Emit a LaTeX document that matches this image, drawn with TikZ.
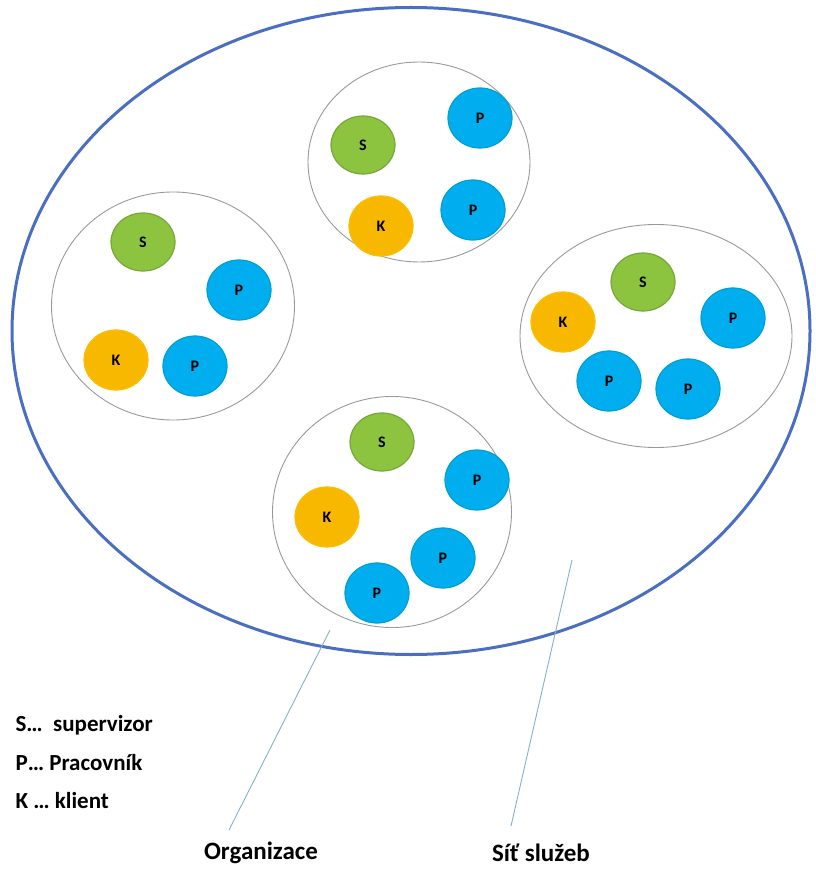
\documentclass[tikz,border=0pt]{standalone}
\usepackage{fontspec}
\setmainfont{Carlito}
\usetikzlibrary{shapes.geometric}
\definecolor{netblue}{HTML}{4A6FC0}
\definecolor{sgreen}{HTML}{8CC43F}
\definecolor{pblue}{HTML}{00AEEF}
\definecolor{kgold}{HTML}{F9B800}
\definecolor{linkblue}{HTML}{86AFCF}

\begin{document}
\begin{tikzpicture}[x=1pt,y=-1pt,
	member/.style={ellipse,draw,line width=1.2pt,minimum width=64pt,minimum height=60pt,inner sep=0pt,font=\bfseries\fontsize{16}{16}\selectfont},
	sup/.style={member,fill=sgreen,draw=sgreen!85!black,minimum height=58pt},
	prac/.style={member,fill=pblue,draw=pblue!70!teal},
	kli/.style={member,fill=kgold,draw=kgold!90!yellow},
	group/.style={ellipse,draw=gray!80,line width=0.9pt,inner sep=0pt},
	legend/.style={anchor=west,font=\bfseries\fontsize{23}{26}\selectfont},
	caption/.style={font=\bfseries\fontsize{25}{28}\selectfont}]

	\useasboundingbox (0,0) rectangle (815,877);

	% service network
	\node[ellipse,draw=netblue,line width=3pt,minimum width=798pt,minimum height=647pt] (net) at (411,331) {};

	% organisations
	\node[group,minimum width=222pt,minimum height=200pt] (gtop) at (419,162) {};
	\node[group,minimum width=243pt,minimum height=228pt] (gleft) at (173,306) {};
	\node[group,minimum width=272pt,minimum height=223pt] (gright) at (656,336) {};
	\node[group,minimum width=239pt,minimum height=231pt] (gbottom) at (392,512) {};

	% top
	\node[sup] (ts) at (363,145) {S};
	\node[prac] (tp1) at (480,118) {P};
	\node[kli] (tk) at (381,226) {K};
	\node[prac] (tp2) at (473,210) {P};

	% left
	\node[sup] (ls) at (143,242) {S};
	\node[prac] (lp1) at (239,290) {P};
	\node[kli] (lk) at (116,360) {K};
	\node[prac] (lp2) at (195,366) {P};

	% right
	\node[sup] (rs) at (643,282) {S};
	\node[prac] (rp1) at (733,318) {P};
	\node[kli] (rk) at (563,322) {K};
	\node[prac] (rp2) at (609,381) {P};
	\node[prac] (rp3) at (688,389) {P};

	% bottom
	\node[sup] (bs) at (382,442) {S};
	\node[prac] (bp1) at (477,480) {P};
	\node[kli] (bk) at (327,517) {K};
	\node[prac] (bp2) at (443,558) {P};
	\node[prac] (bp3) at (377,593) {P};

	% legend
	\node[legend] (lgs) at (12,725) {S\dots\ \ supervizor};
	\node[legend] (lgp) at (12,763) {P\dots\ Pracovník};
	\node[legend] (lgk) at (12,801) {K \dots\ klient};

	% captions
	\node[caption] (org) at (261,853) {Organizace};
	\node[caption] (sit) at (541,853) {Síť služeb};
	\coordinate (orgtip) at (330,630);
	\coordinate (orgend) at (229,830);
	\coordinate (sittip) at (572,560);
	\coordinate (sitend) at (511,826);
	\draw[linkblue,line width=0.9pt] (orgtip) -- (orgend);
	\draw[linkblue,line width=0.9pt] (sittip) -- (sitend);

\end{tikzpicture}
\end{document}
